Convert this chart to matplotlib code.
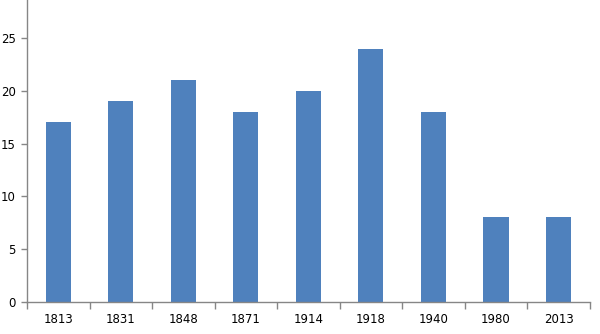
import matplotlib
matplotlib.use("Agg")
import matplotlib.pyplot as plt
import numpy as np

# Data
years = ["1813", "1831", "1848", "1871", "1914", "1918", "1940", "1980", "2013"]
values = [17, 19, 21, 18, 20, 24, 18, 8, 8]

bar_color = "#4F81BD"
axis_color = "#868686"

fig = plt.figure(figsize=(6, 3.34), dpi=100)
ax = fig.add_axes([0.045, 0.096, 0.938, 0.904])

x = np.arange(len(years))
ax.bar(x, values, width=0.4, color=bar_color)

ax.set_xlim(-0.5, len(years) - 0.5)
ax.set_ylim(0, 28.6)
ax.set_yticks([0, 5, 10, 15, 20, 25])

# category labels between the boundary ticks
ax.set_xticks(x)
ax.set_xticklabels(years, fontsize=8.5)
ax.set_xticks(np.arange(len(years) + 1) - 0.5, minor=True)
ax.tick_params(axis="x", which="major", length=0, pad=8)
ax.tick_params(axis="x", which="minor", length=5, color=axis_color, width=1)
ax.tick_params(axis="y", length=4, color=axis_color, width=1, labelsize=8.5, pad=4)

for side in ["top", "right"]:
    ax.spines[side].set_visible(False)
for side in ["left", "bottom"]:
    ax.spines[side].set_color(axis_color)
    ax.spines[side].set_linewidth(1)

fig.savefig("out.png", dpi=100)
